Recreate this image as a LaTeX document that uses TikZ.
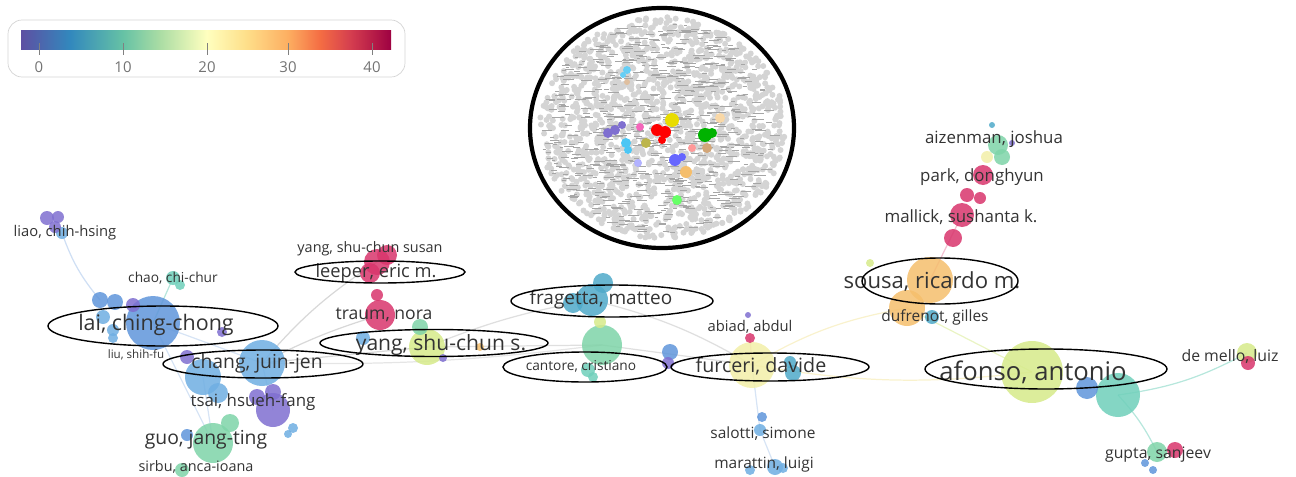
\documentclass[tikz,border=0pt]{standalone}
\usepackage{fontspec}
\setmainfont{Open Sans}
\usepackage{xcolor}
\usetikzlibrary{calc}

% palette of the colour scale
\definecolor{sp0}{HTML}{5E4FA2}
\definecolor{sp5}{HTML}{3288BD}
\definecolor{sp10}{HTML}{66C2A5}
\definecolor{sp15}{HTML}{ABDDA4}
\definecolor{sp20}{HTML}{FFFFBF}
\definecolor{sp25}{HTML}{FEE08B}
\definecolor{sp30}{HTML}{FDAE61}
\definecolor{sp35}{HTML}{F46D43}
\definecolor{sp38}{HTML}{D53E4F}
\definecolor{sp40}{HTML}{9E0142}
% bubbles
\definecolor{violet}{HTML}{7F6FD0}
\definecolor{bleu}{HTML}{5F95DA}
\definecolor{bleuclair}{HTML}{6FAEE2}
\definecolor{turq}{HTML}{4FA9C9}
\definecolor{menthe}{HTML}{6FCFBA}
\definecolor{vert}{HTML}{7ED4A8}
\definecolor{jaunevert}{HTML}{D6EA8A}
\definecolor{jaune}{HTML}{F2EFA8}
\definecolor{orange}{HTML}{F5BE6C}
\definecolor{rouge}{HTML}{D8356C}
\definecolor{texte}{HTML}{333333}
\definecolor{gris}{HTML}{D4D4D4}

\pgfdeclarehorizontalshading{spectre}{100bp}{color(0bp)=(sp0); color(25bp)=(sp0);
  color(31.6bp)=(sp5); color(38.8bp)=(sp10); color(43.8bp)=(sp15);
  color(50.1bp)=(sp20); color(55.3bp)=(sp25); color(61.1bp)=(sp30);
  color(65.4bp)=(sp35); color(69.5bp)=(sp38); color(75bp)=(sp40); color(100bp)=(sp40)}

\begin{document}
\begin{tikzpicture}[x=0.02cm, y=-0.02cm,
    bulle/.style={fill=#1, fill opacity=.85},
    lien/.style={draw=#1, line width=.7pt, opacity=.5},
    nom/.style={font=\fontsize{#1}{#1}\selectfont, text=texte, inner sep=0pt},
    cadre/.style={draw=black, line width=.8pt}]
    \useasboundingbox (0,0) rectangle (1296,477);

    % legend
    \draw[gris, rounded corners=8] (8,20) rectangle (405,77);
    \shade[shading=spectre] (21,30) rectangle (391,49);
    \foreach \v/\xx in {0/39, 10/123, 20/207, 30/288, 40/372}{
        \draw[gray] (\xx,43) -- (\xx,55);
        \node[nom=8.5pt, text=gray!90!black] at (\xx,67) {\v};
    }

    % inset: the whole network
    \coordinate (encart) at (662,128);
    \pgfmathsetseed{12}
    \foreach \i in {1,...,1500}{
        \pgfmathsetmacro{\ang}{360*rnd}
        \pgfmathsetmacro{\rr}{sqrt(rnd)}
        \fill[gris] ({662+123*\rr*cos(\ang)},{128+111*\rr*sin(\ang)}) circle (3);
    }
    \foreach \i in {1,...,650}{
        \pgfmathsetmacro{\ang}{360*rnd}
        \pgfmathsetmacro{\rr}{sqrt(rnd)}
        \pgfmathsetmacro{\lg}{3+9*rnd}
        \draw[gray!70, line width=.3pt] ({656+116*\rr*cos(\ang)},{128+106*\rr*sin(\ang)}) -- ++(\lg,0);
    }
    \foreach \pos/\r/\c in {{627,70}/4/cyan!60, {623,75}/3/cyan!60, {627,82}/3/brown!50,
        {608,133}/5/violet, {615,130}/5/violet, {622,125}/4/violet,
        {640,127}/4/magenta!60, {657,130}/6/red, {665,132}/6/red, {662,140}/4/red,
        {672,120}/7/yellow!80!olive, {646,143}/5/olive!60, {626,143}/5/cyan!70, {628,150}/4/cyan!70,
        {705,135}/7/green!70!black, {712,133}/5/green!70!black, {707,148}/5/brown!70,
        {692,148}/4/red!40, {675,160}/6/blue!60, {682,157}/4/blue!60, {638,163}/4/blue!30,
        {686,172}/6/orange, {677,200}/5/green!60, {720,118}/5/orange!60}{
        \fill[\c] (\pos) circle (\r);
    }
    \draw[line width=2.4pt] (encart) ellipse (132 and 120);

    % named bubbles
    \coordinate (liao) at (62,233);
    \coordinate (chao) at (173,278);
    \coordinate (lai) at (153,323);
    \coordinate (lai1) at (100,300);
    \coordinate (chang) at (262,363);
    \coordinate (chang1) at (203,377);
    \coordinate (tsai) at (273,410);
    \coordinate (guo) at (213,443);
    \coordinate (leeper) at (377,262);
    \coordinate (traum) at (380,315);
    \coordinate (yang) at (427,347);
    \coordinate (fragetta) at (592,300);
    \coordinate (cantore) at (602,345);
    \coordinate (furceri) at (752,365);
    \coordinate (abiad) at (750,338);
    \coordinate (salotti) at (760,430);
    \coordinate (marattin) at (775,467);
    \coordinate (aizenman) at (998,145);
    \coordinate (park) at (983,175);
    \coordinate (mallick) at (962,215);
    \coordinate (sousa) at (930,280);
    \coordinate (sousa1) at (907,308);
    \coordinate (afonso) at (1032,372);
    \coordinate (afonso1) at (1118,395);
    \coordinate (demello) at (1247,353);
    \coordinate (gupta) at (1157,452);

    % links
    \draw[lien=bleu!60] (liao) to[bend right=10] (lai1);
    \draw[lien=menthe] (chao) -- (lai);
    \draw[lien=bleu!50] (lai) -- (chang) (lai) -- (guo) (chang1) -- (guo) (chang) -- (tsai);
    \draw[lien=gray!60] (chang) to[bend left=8] (leeper);
    \draw[lien=gray!60] (chang) to[bend left=5] (traum);
    \draw[lien=gray!60] (chang) -- (yang);
    \draw[lien=gray!40] (chang) to[bend right=4] (cantore);
    \draw[lien=gray!50] (yang) to[bend left=6] (fragetta);
    \draw[lien=gray!50] (yang) -- (cantore);
    \draw[lien=gray!50] (cantore) -- (furceri) (fragetta) to[bend left=8] (furceri);
    \draw[lien=rouge!60] (abiad) -- (furceri);
    \draw[lien=bleu!50] (furceri) -- (salotti) -- (marattin);
    \draw[lien=jaune!80!orange] (furceri) to[bend left=10] (sousa1);
    \draw[lien=jaune!80!orange] (furceri) to[bend right=8] (afonso);
    \draw[lien=rouge!60] (sousa) -- (mallick);
    \draw[lien=jaunevert] (sousa1) -- (afonso);
    \draw[lien=menthe] (afonso1) to[bend right=10] (demello);
    \draw[lien=menthe] (afonso1) to[bend left=8] (gupta);

    % bubbles, big ones first
    \fill[bulle=bleu] (lai) circle (27);
    \fill[bulle=bleuclair] (chang) circle (23);
    \fill[bulle=bleuclair] (chang1) circle (18);
    \fill[bulle=violet] (tsai) circle (17);
    \fill[bulle=vert] (guo) circle (20);
    \fill[bulle=rouge] (leeper) circle (13);
    \fill[bulle=rouge] (traum) circle (15);
    \fill[bulle=jaunevert] (yang) circle (18);
    \fill[bulle=turq] (fragetta) circle (16);
    \fill[bulle=vert] (cantore) circle (20);
    \fill[bulle=jaune] (furceri) circle (23);
    \fill[bulle=rouge] (abiad) circle (5);
    \fill[bulle=bleuclair] (salotti) circle (6);
    \fill[bulle=bleuclair] (marattin) circle (8);
    \fill[bulle=vert] (aizenman) circle (10);
    \fill[bulle=rouge] (park) circle (10);
    \fill[bulle=rouge] (mallick) circle (12);
    \fill[bulle=orange] (sousa) circle (23);
    \fill[bulle=orange] (sousa1) circle (18);
    \fill[bulle=jaunevert] (afonso) circle (31);
    \fill[bulle=menthe] (afonso1) circle (22);
    \fill[bulle=jaunevert] (demello) circle (10);
    \fill[bulle=vert] (gupta) circle (10);
    \fill[bulle=bleuclair] (liao) circle (6);
    \fill[bulle=menthe] (chao) circle (7);
    \fill[bulle=bleu] (lai1) circle (8);
    % small bubbles
    \foreach \pos/\r/\c in {{47,218}/7/violet, {58,217}/6/violet, {55,227}/6/violet,
        {115,302}/8/bleu, {133,305}/7/violet, {103,317}/7/bleuclair, {113,330}/6/bleuclair,
        {113,338}/5/bleuclair, {180,285}/5/menthe, {222,332}/5/violet, {187,357}/7/violet,
        {273,392}/8/violet, {257,397}/8/violet, {218,393}/10/bleuclair, {293,428}/5/bleuclair,
        {288,434}/4/bleuclair, {230,423}/9/vert, {187,435}/6/bleu, {182,470}/7/vert,
        {387,255}/10/rouge, {370,273}/10/rouge, {377,295}/6/rouge, {363,338}/7/bleuclair,
        {420,327}/8/vert, {443,358}/4/violet, {480,347}/4/orange,
        {603,283}/10/turq, {573,303}/10/turq, {600,322}/6/jaunevert, {588,370}/7/menthe,
        {593,377}/5/menthe, {670,352}/8/bleu, {668,363}/6/violet, {748,315}/3/violet,
        {793,373}/8/turq, {790,362}/6/turq, {762,417}/5/bleu, {750,470}/5/bleuclair,
        {783,468}/5/bleuclair, {992,125}/3/turq, {1002,157}/8/vert, {987,157}/6/jaune,
        {1012,143}/3/violet, {967,195}/7/rouge, {980,198}/6/rouge, {953,238}/9/rouge,
        {870,263}/4/jaunevert, {932,317}/7/turq, {1087,388}/11/bleu, {1248,363}/7/rouge,
        {1175,450}/8/rouge, {1145,463}/4/bleu, {1153,470}/4/bleu}{
        \fill[bulle=\c] (\pos) circle (\r);
    }

    % labels
    \node[nom=8.4pt] (n-liao) at (65,233) {liao, chih-hsing};
    \node[nom=7.8pt] (n-chao) at (173,278) {chao, chi-chur};
    \node[nom=12.2pt] (n-lai) at (156,325) {lai, ching-chong};
    \node[nom=6.6pt] (n-liu) at (136,355) {liu, shih-fu};
    \node[nom=11pt] (n-chang) at (257,363) {chang, juin-jen};
    \node[nom=9.6pt] (n-tsai) at (253,402) {tsai, hsueh-fang};
    \node[nom=11pt] (n-guo) at (206,440) {guo, jang-ting};
    \node[nom=8.2pt] (n-sirbu) at (196,467) {sirbu, anca-ioana};
    \node[nom=8.2pt] (n-yss) at (370,249) {yang, shu-chun susan};
    \node[nom=10.4pt] (n-leeper) at (376,273) {leeper, eric m.};
    \node[nom=10pt] (n-traum) at (384,315) {traum, nora};
    \node[nom=12pt] (n-yang) at (441,345) {yang, shu-chun s.};
    \node[nom=10.8pt] (n-fragetta) at (601,300) {fragetta, matteo};
    \node[nom=7.8pt] (n-cantore) at (581,366) {cantore, cristiano};
    \node[nom=8.4pt] (n-abiad) at (750,327) {abiad, abdul};
    \node[nom=11.2pt] (n-furceri) at (761,366) {furceri, davide};
    \node[nom=8.8pt] (n-salotti) at (763,434) {salotti, simone};
    \node[nom=8.8pt] (n-marattin) at (764,464) {marattin, luigi};
    \node[nom=9.6pt] (n-aizenman) at (994,139) {aizenman, joshua};
    \node[nom=9.6pt] (n-park) at (982,177) {park, donghyun};
    \node[nom=9.6pt] (n-mallick) at (961,217) {mallick, sushanta k.};
    \node[nom=12.6pt] (n-sousa) at (932,282) {sousa, ricardo m.};
    \node[nom=8.8pt] (n-dufrenot) at (935,317) {dufrenot, gilles};
    \node[nom=14.6pt] (n-afonso) at (1033,372) {afonso, antonio};
    \node[nom=9pt] (n-demello) at (1230,357) {de mello, luiz};
    \node[nom=9pt] (n-gupta) at (1158,455) {gupta, sanjeev};

    % hand-drawn rings round the names
    \draw[cadre] (163,326) ellipse (115 and 20);
    \draw[cadre] (263,364) ellipse (100 and 14);
    \draw[cadre] (380,272) ellipse (85 and 11);
    \draw[cadre] (434,343) ellipse (114 and 13.5);
    \draw[cadre] (612,301) ellipse (101 and 16);
    \draw[cadre] (585,367) ellipse (82 and 15);
    \draw[cadre] (770,367) ellipse (99 and 14);
    \draw[cadre] (940,281) ellipse (78 and 23);
    \draw[cadre] (1046,369) ellipse (121 and 20);
\end{tikzpicture}
\end{document}
